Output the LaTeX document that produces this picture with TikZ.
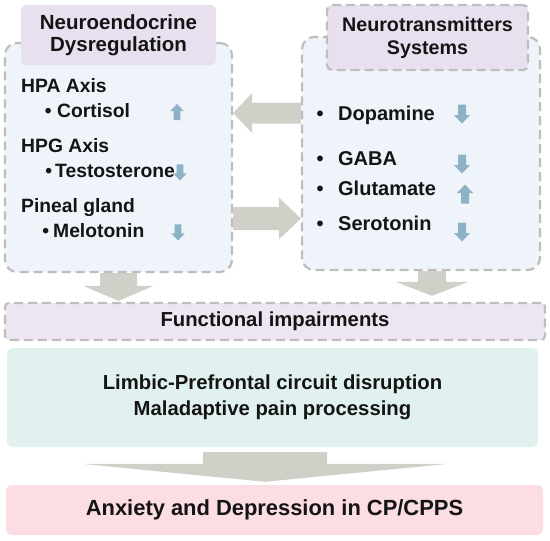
\documentclass[tikz,border=0pt]{standalone}
\usepackage{fontspec}
\setmainfont{Liberation Sans}
\usetikzlibrary{calc}
\definecolor{boxblue}{HTML}{EEF4FA}
\definecolor{lilac}{HTML}{E8E0EF}
\definecolor{mint}{HTML}{E1F1EF}
\definecolor{blush}{HTML}{FCDDE3}
\definecolor{dashgray}{HTML}{BEBEBE}
\definecolor{flowgray}{HTML}{D0D0C8}
\definecolor{trendblue}{HTML}{8DB2C5}
\definecolor{ink}{HTML}{141414}

% block arrows between the boxes
\newcommand{\vflow}[5]{% tail, tip, shaft half width, head half width, head length
  \fill[flow] let \p1=(#1), \p2=(#2) in
    (\x2-#3pt,\y1) -- (\x2+#3pt,\y1) -- (\x2+#3pt,\y2+#5pt) -- (\x2+#4pt,\y2+#5pt)
    -- (\x2,\y2) -- (\x2-#4pt,\y2+#5pt) -- (\x2-#3pt,\y2+#5pt) -- cycle;}
\newcommand{\hflow}[5]{% tail, tip, shaft half width, head half width, signed head length
  \fill[flow] let \p1=(#1), \p2=(#2) in
    (\x1,\y2-#3pt) -- (\x1,\y2+#3pt) -- (\x2+#5pt,\y2+#3pt) -- (\x2+#5pt,\y2+#4pt)
    -- (\x2,\y2) -- (\x2+#5pt,\y2-#4pt) -- (\x2+#5pt,\y2-#3pt) -- cycle;}

\begin{document}
\begin{tikzpicture}[
  x=1pt, y=-1pt,
  text=ink,
  panel/.style={draw=dashgray, fill=boxblue, line width=2.2pt, dash pattern=on 9pt off 5pt, rounded corners=12pt, inner sep=0pt},
  heading/.style={fill=lilac, rounded corners=5pt, align=center, inner sep=0pt, font=\fontsize{20.5}{21.5}\selectfont\bfseries},
  dashbox/.style={draw=dashgray, line width=2.2pt, dash pattern=on 9pt off 5pt},
  band/.style={rounded corners=6pt, align=center, inner sep=0pt, font=\fontsize{20.3}{26}\selectfont\bfseries},
  item/.style={anchor=base west, inner sep=0pt, font=\fontsize{19.3}{22}\selectfont\bfseries},
  ntitem/.style={anchor=base west, inner sep=0pt, font=\fontsize{20}{22}\selectfont\bfseries},
  flow/.style={fill=flowgray},
  trendup/.pic={\fill[trendblue] (-4,9.5) -- (-4,-1) -- (-8,-1) -- (0,-9.5) -- (8,-1) -- (4,-1) -- (4,9.5) -- cycle;},
  trenddown/.pic={\fill[trendblue] (-4,-9.5) -- (-4,1) -- (-8,1) -- (0,9.5) -- (8,1) -- (4,1) -- (4,-9.5) -- cycle;}
]
\useasboundingbox (0,0) rectangle (550,541);

% Upper panels
\node[panel, minimum width=227pt, minimum height=229pt] (neuro) at (118.5,157.5) {};
\node[panel, minimum width=238pt, minimum height=233pt] (nt) at (421,153.5) {};
\node[heading, minimum width=195pt, minimum height=60pt] (neurotitle) at (118.5,35) {Neuroendocrine\\Dysregulation};
\node[heading, dashbox, minimum width=201pt, minimum height=65pt, font=\fontsize{19.7}{23}\selectfont\bfseries] (nttitle) at (427.5,37.5) {Neurotransmitters\\Systems};

% Hormone axes
\node[item] (hpa) at (21,92) {HPA Axis};
\node[item] (cortisol) at (44.7,117) {\makebox[12.3pt][l]{\textbullet}Cortisol};
\node[item] (hpg) at (21,152) {HPG Axis};
\node[item] (testo) at (45.2,177) {\makebox[9.8pt][l]{\textbullet}Testosterone};
\node[item] (pineal) at (21,212) {Pineal gland};
\node[item] (melo) at (42.2,237) {\makebox[10.8pt][l]{\textbullet}Melotonin};
\pic[scale=.85] at (177,112) {trendup};
\pic[scale=.85] at (180,172.5) {trenddown};
\pic[scale=.85] at (178,232.5) {trenddown};

% Transmitters
\node[ntitem] (dopa) at (316.5,120) {\makebox[21.5pt][l]{\textbullet}Dopamine};
\node[ntitem] (gaba) at (316.5,165) {\makebox[21.5pt][l]{\textbullet}GABA};
\node[ntitem] (gluta) at (316.5,195) {\makebox[21.5pt][l]{\textbullet}Glutamate};
\node[ntitem] (sero) at (316.5,230) {\makebox[21.5pt][l]{\textbullet}Serotonin};
\pic at (462,114) {trenddown};
\pic at (462,164) {trenddown};
\pic at (465,194) {trendup};
\pic at (462,232) {trenddown};

% Lower bands
\node[band, dashbox, fill=lilac!80!white, rounded corners=4pt, minimum width=540pt, minimum height=37pt] (func) at (275,321.5) {Functional impairments};
\node[band, fill=mint, minimum width=531pt, minimum height=99pt] (circuit) at (272.5,397.5) {Limbic-Prefrontal circuit disruption\\Maladaptive pain processing};
\node[band, fill=blush, minimum width=537pt, minimum height=50pt, font=\fontsize{21.9}{26}\selectfont\bfseries] (outcome) at (274.5,510) {Anxiety and Depression in CP/CPPS};

% Flow arrows
\hflow{$(nt.west)+(0,-40.5)$}{$(neuro.east)+(0,-44.5)$}{10.5}{20}{19}
\hflow{$(neuro.east)+(0,61)$}{$(nt.west)+(0,65)$}{11.5}{21}{-22}
\vflow{neuro.south}{$(neuro.south |- func.north)+(0,-1)$}{18.5}{35}{15}
\vflow{$(nt.south)+(11,0)$}{$(nt.south |- func.north)+(11,-6)$}{14}{36}{14}
\vflow{$(circuit.south)+(-7.5,5)$}{$(circuit.south |- outcome.north)+(-7.5,-3)$}{62}{183.5}{18}
\end{tikzpicture}
\end{document}
